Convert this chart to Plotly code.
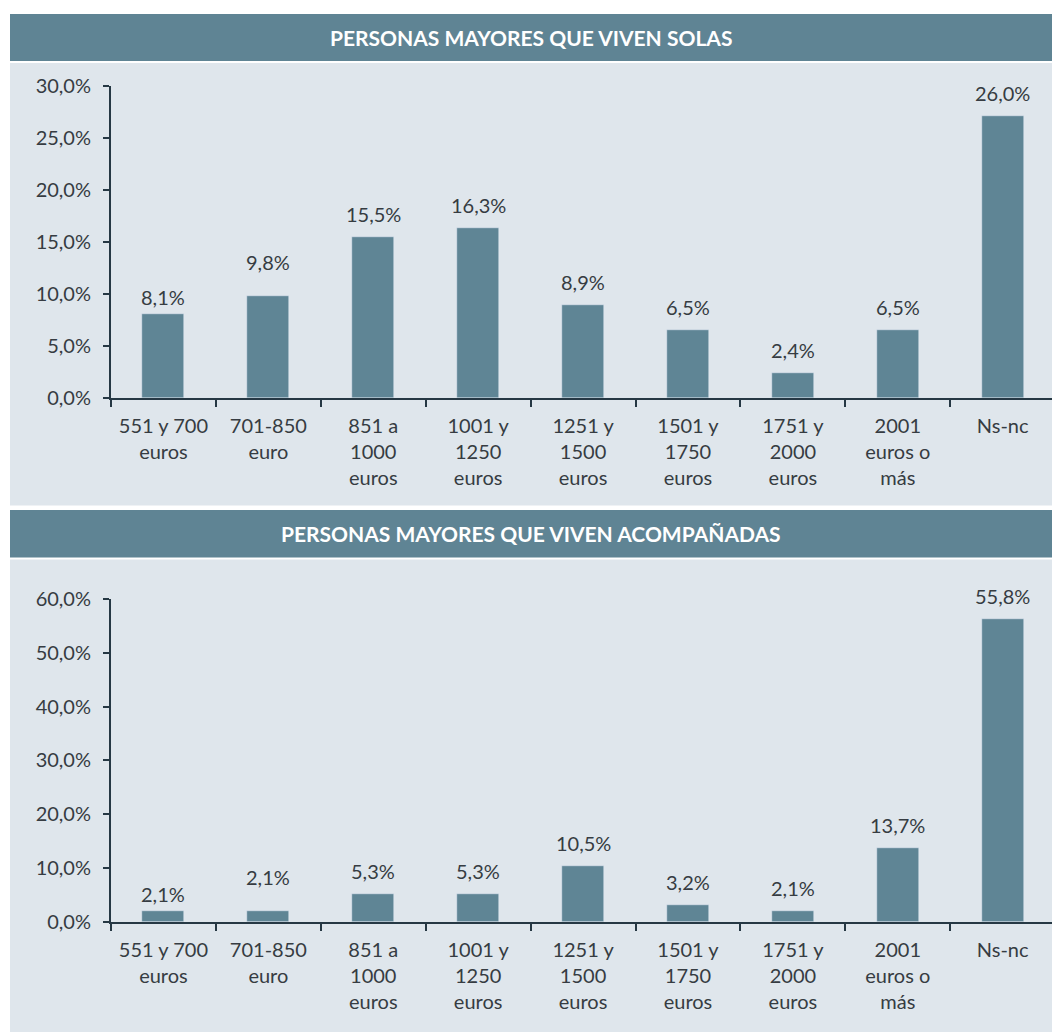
import plotly.graph_objects as go

# ---------------- data ----------------
categories = ["551 y 700<br>euros", "701-850<br>euro", "851 a<br>1000<br>euros",
              "1001 y<br>1250<br>euros", "1251 y<br>1500<br>euros", "1501 y<br>1750<br>euros",
              "1751 y<br>2000<br>euros", "2001<br>euros o<br>más", "Ns-nc"]

solas_values = [8.1, 9.8, 15.5, 16.3, 8.9, 6.5, 2.4, 6.5, 27.1]
solas_labels = ["8,1%", "9,8%", "15,5%", "16,3%", "8,9%", "6,5%", "2,4%", "6,5%", "26,0%"]

acomp_values = [1.9, 1.9, 5.2, 5.2, 10.4, 3.1, 2.0, 13.7, 56.3]
acomp_labels = ["2,1%", "2,1%", "5,3%", "5,3%", "10,5%", "3,2%", "2,1%", "13,7%", "55,8%"]

title_top = "PERSONAS MAYORES QUE VIVEN SOLAS"
title_bottom = "PERSONAS MAYORES QUE VIVEN ACOMPAÑADAS"

# ---------------- style ----------------
W, H = 1052, 1032
BAR = "#5f8595"
HEAD = "#5f8494"
PANEL = "#dfe6ec"
AXIS = "#263844"
TXT = "#363c42"
FONT = "Lato"
label_nudge_px = [-6, 11, 0, 0, 0, 0, 0, 0, 0]


def py(pix):
    return 1 - pix / H


fig = go.Figure()
fig.add_trace(go.Bar(x=categories, y=solas_values, marker_color=BAR, width=0.4,
                     xaxis="x", yaxis="y", hoverinfo="skip"))
fig.add_trace(go.Bar(x=categories, y=acomp_values, marker_color=BAR, width=0.4,
                     xaxis="x2", yaxis="y2", hoverinfo="skip"))

shapes = [
    dict(type="rect", xref="paper", yref="paper", x0=10 / W, x1=1, y0=py(61), y1=py(14),
         fillcolor=HEAD, line_width=0, layer="below"),
    dict(type="rect", xref="paper", yref="paper", x0=10 / W, x1=1, y0=py(505.5), y1=py(63),
         fillcolor=PANEL, line_width=0, layer="below"),
    dict(type="rect", xref="paper", yref="paper", x0=10 / W, x1=1, y0=py(557.5), y1=py(510),
         fillcolor=HEAD, line_width=0, layer="below"),
    dict(type="rect", xref="paper", yref="paper", x0=10 / W, x1=1, y0=0, y1=py(559.5),
         fillcolor=PANEL, line_width=0, layer="below"),
]

annotations = [
    dict(text="<b>%s</b>" % title_top, xref="paper", yref="paper", x=(10 + W) / 2 / W, y=py(37.5),
         xanchor="center", yanchor="middle", showarrow=False,
         font=dict(family=FONT, size=21, color="white")),
    dict(text="<b>%s</b>" % title_bottom, xref="paper", yref="paper", x=(10 + W) / 2 / W, y=py(533.5),
         xanchor="center", yanchor="middle", showarrow=False,
         font=dict(family=FONT, size=21, color="white")),
]
for xa, ya, vals, labs in (("x", "y", solas_values, solas_labels),
                           ("x2", "y2", acomp_values, acomp_labels)):
    for c, v, t, n in zip(categories, vals, labs, label_nudge_px):
        annotations.append(dict(text=t, x=c, y=v, xref=xa, yref=ya, showarrow=False,
                                xanchor="center", yanchor="middle", yshift=23 + n,
                                font=dict(family=FONT, size=20, color=TXT)))

xcommon = dict(type="category", range=[-0.5, 8.47], domain=[111 / W, 1],
               showline=True, linecolor=AXIS, linewidth=2, automargin=False,
               ticks="outside", tickson="boundaries", ticklen=7, tickwidth=2, tickcolor=AXIS,
               showgrid=False, tickfont=dict(family=FONT, size=20, color=TXT),
               ticklabelstandoff=9, fixedrange=True)
ycommon = dict(showline=True, linecolor=AXIS, linewidth=2, ticks="outside", ticklen=6,
               tickwidth=2, tickcolor=AXIS, showgrid=False, zeroline=False, automargin=False,
               tickformat=".1f", ticksuffix="%", tickfont=dict(family=FONT, size=20, color=TXT),
               ticklabelstandoff=8, fixedrange=True)

fig.update_layout(
    width=W, height=H, margin=dict(l=0, r=0, t=0, b=0, autoexpand=False),
    paper_bgcolor="white", plot_bgcolor="rgba(0,0,0,0)",
    separators=",.", showlegend=False, bargap=0,
    xaxis=dict(xcommon, anchor="y"),
    yaxis=dict(ycommon, domain=[py(398), py(86)], range=[0, 30], dtick=5, anchor="x"),
    xaxis2=dict(xcommon, anchor="y2"),
    yaxis2=dict(ycommon, domain=[py(921.7), py(599)], range=[0, 60], dtick=10, anchor="x2"),
    shapes=shapes, annotations=annotations,
)

fig.write_html(
    "out.html",
    config={"displayModeBar": False},
    post_script=(
        "var gd=document.getElementById('{plot_id}');"
        "gd.style.position='fixed';gd.style.top='0px';gd.style.left='0px';"
        "document.documentElement.style.margin='0';document.body.style.margin='0';"
        "document.body.style.padding='0';document.documentElement.style.overflow='hidden';"
        "document.body.style.overflow='hidden';"
    ),
)
